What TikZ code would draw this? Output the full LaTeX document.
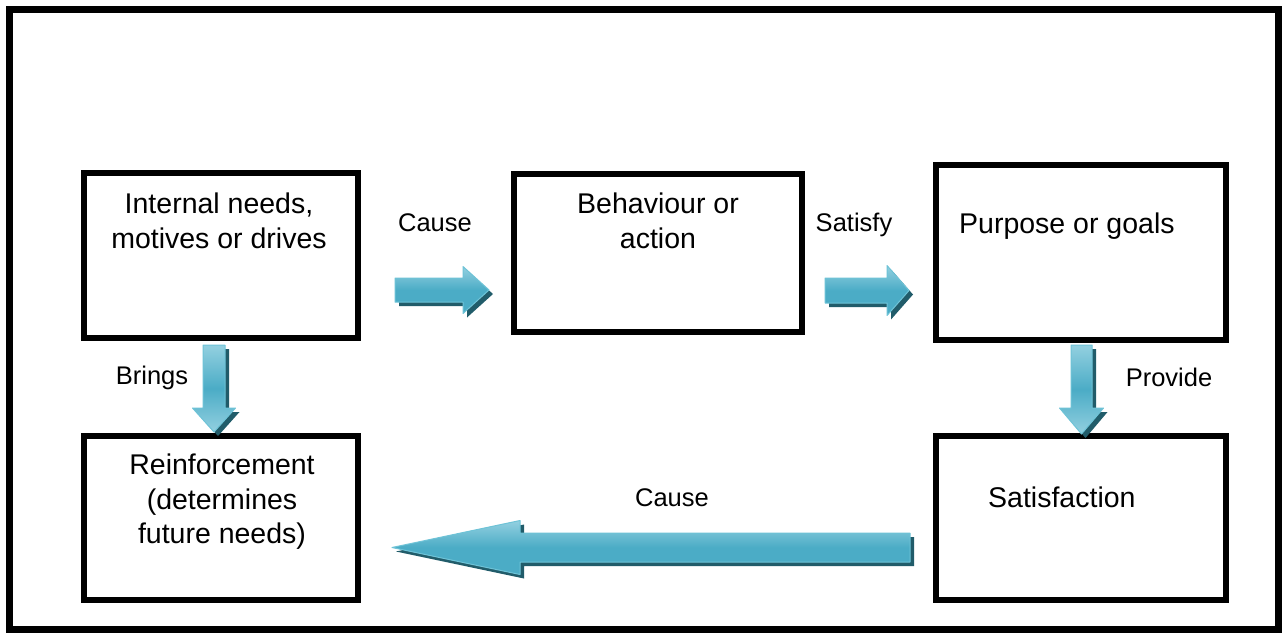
\documentclass[tikz,border=0pt]{standalone}
\usepackage{fontspec}
\setmainfont{Liberation Sans}
\usetikzlibrary{shadows}
\definecolor{arrowfill}{HTML}{4BACC6}
\definecolor{arrowlight}{HTML}{93D0E0}
\definecolor{arrowedge}{HTML}{6EC3D7}
\definecolor{arrowshadow}{HTML}{215C6A}
\tikzset{
  box/.style={draw=black, line width=6pt, fill=white, inner sep=0pt},
  boxtext/.style={align=center, inner sep=0pt, font=\fontsize{28.5}{34.5}\selectfont},
  label/.style={inner sep=0pt, font=\fontsize{25.5}{30}\selectfont},
  blockarrow/.style={draw=arrowedge, line width=1pt, line join=round,
    drop shadow={shadow xshift=4pt, shadow yshift=-4pt, fill=arrowshadow, opacity=1}},
  hshade/.style={top color=arrowlight, bottom color=arrowfill, middle color=arrowfill},
  vshade/.style={top color=arrowlight, bottom color=arrowlight, middle color=arrowfill}
}
% right-pointing block arrow: tail x, head base x, tip x, mid y, half shaft, half head
\newcommand\rightblock[6]{%
  \path[blockarrow, hshade] ({#1},{#4-#5}) -- ({#2},{#4-#5}) -- ({#2},{#4-#6}) --
    ({#3},{#4}) -- ({#2},{#4+#6}) -- ({#2},{#4+#5}) -- ({#1},{#4+#5}) -- cycle;}
% left-pointing block arrow: tail x, head base x, tip x, mid y, half shaft, half head
\newcommand\leftblock[6]{%
  \path[blockarrow, hshade] ({#1},{#4-#5}) -- ({#2},{#4-#5}) -- ({#2},{#4-#6}) --
    ({#3},{#4}) -- ({#2},{#4+#6}) -- ({#2},{#4+#5}) -- ({#1},{#4+#5}) -- cycle;}
% down-pointing block arrow: mid x, tail y, head base y, tip y, half shaft, half head
\newcommand\downblock[6]{%
  \path[blockarrow, vshade] ({#1-#5},{#2}) -- ({#1-#5},{#3}) -- ({#1-#6},{#3}) --
    ({#1},{#4}) -- ({#1+#6},{#3}) -- ({#1+#5},{#3}) -- ({#1+#5},{#2}) -- cycle;}
\begin{document}
\begin{tikzpicture}[x=1pt,y=-1pt]
\useasboundingbox (0,0) rectangle (1283,633);
\fill[white] (0,0) rectangle (1283,633);
\draw[line width=7pt] (9.5,9.5) rectangle (1278.5,629.5);

% boxes
\node[box, minimum width=274pt, minimum height=165pt] (needs) at (221,255.5) {};
\node[box, minimum width=288pt, minimum height=158pt] (behaviour) at (658,253) {};
\node[box, minimum width=290pt, minimum height=175pt] (goals) at (1081,252.5) {};
\node[box, minimum width=274pt, minimum height=164pt] (reinf) at (221,518) {};
\node[box, minimum width=290pt, minimum height=163.5pt] (satis) at (1081,517.75) {};

% box texts
\node[boxtext] (needsT) at (219,221) {Internal needs,\\motives or drives};
\node[boxtext] (behaviourT) at (658,221) {Behaviour or\\action};
\node[boxtext, anchor=west] (goalsT) at (959,226) {Purpose or goals};
\node[boxtext] (reinfT) at (222,502) {Reinforcement\\(determines\\future needs)};
\node[boxtext, anchor=west] (satisT) at (988,497) {Satisfaction};

% block arrows
\rightblock{395}{463}{489}{290}{12}{23.5}
\rightblock{825}{887}{909}{290.5}{12.5}{25}
\leftblock{910}{520}{392}{547.5}{14.5}{27}
\downblock{214}{345}{408}{432}{11}{21.5}
\downblock{1081.5}{345}{408}{434}{10.5}{22}

% arrow labels
\node[label] (causeA) at (435,223) {Cause};
\node[label] (satisfyL) at (854,225) {Satisfy};
\node[label] (bringsL) at (152,378) {Brings};
\node[label] (provideL) at (1169,377) {Provide};
\node[label] (causeB) at (672,498) {Cause};
\end{tikzpicture}
\end{document}
